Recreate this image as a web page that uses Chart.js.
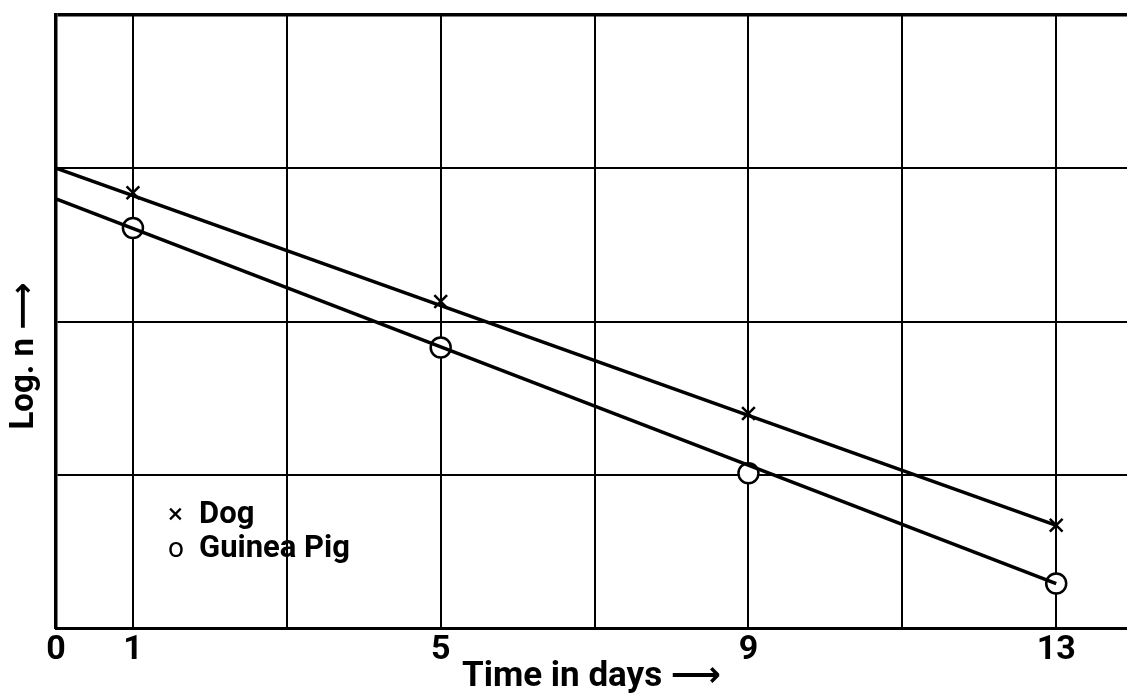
<!DOCTYPE html>
<html>
<head>
<meta charset="utf-8">
<script src="https://cdn.jsdelivr.net/npm/chart.js@4/dist/chart.umd.min.js"></script>
<style>
  html, body { margin: 0; padding: 0; background: #fff; }
  #wrap { width: 1127px; height: 698px; }
</style>
</head>
<body>
<div id="wrap"><canvas id="grafico"></canvas></div>
<script>
// observed points
var days = [1, 5, 9, 13];
var dogLog = [2.84, 2.13, 1.40, 0.67];
var pigLog = [2.61, 1.83, 1.01, 0.29];

// fitted straight lines
var fitDays = [0, 13];
var dogFit = [3.00, 0.67];
var pigFit = [2.80, 0.29];

// axis
var xGrid = [0, 1, 3, 5, 7, 9, 11, 13];
var xLabels = [0, 1, 5, 9, 13];
var seriesNames = ["Dog", "Guinea Pig"];
var legendMarks = ["\u00d7", "o"];

var F = "Roboto, 'DejaVu Sans', sans-serif";

function pts(xs, ys) {
  var out = [];
  for (var i = 0; i < xs.length; i++) out.push({ x: xs[i], y: ys[i] });
  return out;
}

// draws the y title and the little key in the lower left
var extras = {
  id: "extras",
  afterDraw: function (chart) {
    var ctx = chart.ctx;
    ctx.save();
    ctx.fillStyle = "#000";
    ctx.translate(25, 356);
    ctx.rotate(-Math.PI / 2);
    ctx.font = "bold 33px " + F;
    ctx.textAlign = "center";
    ctx.textBaseline = "middle";
    ctx.fillText("Log. n \u27f6", 0, 0);
    ctx.restore();

    ctx.save();
    ctx.fillStyle = "#000";
    ctx.textBaseline = "alphabetic";
    for (var i = 0; i < seriesNames.length; i++) {
      var y = 523 + i * 34;
      ctx.font = "28px " + F;
      ctx.fillText(legendMarks[i], 168, y);
      ctx.font = "bold 31px " + F;
      ctx.fillText(seriesNames[i], 199, y);
    }
    ctx.restore();
  }
};

new Chart(document.getElementById("grafico"), {
  type: "scatter",
  data: {
    datasets: [
      {
        label: seriesNames[0] + " fit",
        data: pts(fitDays, dogFit),
        showLine: true,
        borderColor: "#000",
        borderWidth: 3.5,
        pointRadius: 0
      },
      {
        label: seriesNames[1] + " fit",
        data: pts(fitDays, pigFit),
        showLine: true,
        borderColor: "#000",
        borderWidth: 3.5,
        pointRadius: 0
      },
      {
        label: seriesNames[0],
        data: pts(days, dogLog),
        pointStyle: "crossRot",
        pointRadius: 9,
        borderColor: "#000",
        borderWidth: 2.5,
        showLine: false
      },
      {
        label: seriesNames[1],
        data: pts(days, pigLog),
        pointStyle: "circle",
        pointRadius: 10,
        backgroundColor: "#fff",
        borderColor: "#000",
        borderWidth: 2.5,
        showLine: false
      }
    ]
  },
  options: {
    responsive: true,
    maintainAspectRatio: false,
    animation: false,
    layout: { autoPadding: false, padding: { top: 15, right: 0, left: 0, bottom: 0 } },
    plugins: {
      legend: { display: false },
      tooltip: { enabled: false }
    },
    scales: {
      x: {
        type: "linear",
        min: 0,
        max: 13.92,
        afterBuildTicks: function (scale) {
          scale.ticks = xGrid.map(function (v) { return { value: v }; });
        },
        afterFit: function (scale) { scale.height = 70; },
        ticks: {
          color: "#000",
          font: { family: F, size: 34, weight: "bold" },
          padding: 2,
          maxRotation: 0,
          autoSkip: false,
          callback: function (v) { return xLabels.indexOf(v) >= 0 ? String(v) : ""; }
        },
        grid: { color: "#000", lineWidth: 2, drawTicks: false },
        border: { display: true, color: "#000", width: 3 },
        title: {
          display: true,
          text: "Time in days \u27f6",
          color: "#000",
          font: { family: F, size: 35, weight: "bold" },
          padding: { top: 0, bottom: 0 }
        }
      },
      y: {
        min: 0,
        max: 4,
        afterFit: function (scale) { scale.width = 56; },
        ticks: { display: false, stepSize: 1 },
        grid: {
          color: "#000",
          drawTicks: false,
          lineWidth: function (c) { return c.tick && c.tick.value === 4 ? 3.5 : 2; }
        },
        border: { display: true, color: "#000", width: 3.5 }
      }
    }
  },
  plugins: [extras]
});
</script>
</body>
</html>
